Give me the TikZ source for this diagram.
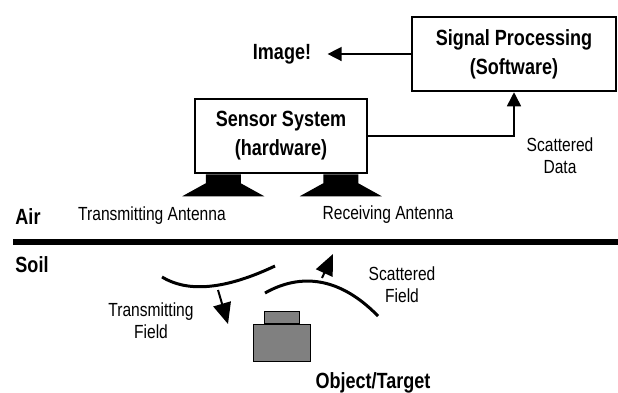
\documentclass[tikz,border=0pt]{standalone}
\usepackage{fontspec}
\setmainfont{Liberation Sans}[FakeStretch=0.82]
\usetikzlibrary{arrows.meta,positioning,calc}
\newcommand{\boldtext}{\fontsize{22}{29}\selectfont\bfseries}
\newcommand{\plaintext}{\fontsize{19}{22}\selectfont}
\tikzset{
    raw box/.style={rectangle, draw, line width=2.5pt, align=center, font=\boldtext, inner sep=0pt},
    big label/.style={font=\boldtext, align=center},
    small label/.style={font=\plaintext, align=center},
    antenna/.style={fill=black},
    wave/.style={line width=3pt},
    field arrow/.style={line width=2pt, -{Triangle[length=21pt,width=18pt]}},
    data arrow/.style={line width=1.5pt, -{Triangle[length=14pt,width=14pt]}},
    target part/.style={rectangle, draw, fill=gray, line width=0.8pt, inner sep=0pt}
}

\begin{document}
\begin{tikzpicture}[x=1pt,y=-1pt]
	\useasboundingbox (0,0) rectangle (618,392);
	% system
	\node[raw box, minimum width=204pt, minimum height=74pt] (sigproc) at (514,54) {Signal Processing\\(Software)};
	\node[raw box, minimum width=172pt, minimum height=74pt] (sensor) at (281,136) {Sensor System\\(hardware)};
	\node[big label] (image) at (282,54) {Image!};
	\draw[data arrow, shorten >=13pt] (sigproc.west) -- (image.east);
	\draw[data arrow] (sensor.east) -| (sigproc.south);
	\node[small label] (scdata) at (560,156) {Scattered\\Data};
	% antennas
	\coordinate (txant) at ($(sensor.south west)+(29.5,0)$);
	\coordinate (rxant) at ($(sensor.south east)+(-27.5,0)$);
	\foreach \ant in {txant, rxant}
		\fill[antenna] (\ant) ++(-17.5,0) -- ++(35,0) -- ++(0,9) -- ++(23.5,13) -- ++(-82,0) -- ++(23.5,-13) -- cycle;
	\node[small label] (txlabel) at (152,216) {Transmitting Antenna};
	\node[small label] (rxlabel) at (388,215) {Receiving Antenna};
	% ground
	\node[big label] (air) at (28,217) {Air};
	\node[big label] (soil) at (32,265) {Soil};
	\draw[line width=5.5pt] (13,242) -- (618,242);
	% fields
	\draw[wave] (162,277) .. controls (185,291) and (220,292) .. (275,266);
	\coordinate (txfrom) at (218,290);
	\coordinate (txto) at (228,324);
	\draw[field arrow] (txfrom) -- (txto);
	\draw[wave] (265,293) .. controls (295,276) and (335,272) .. (378,316);
	\coordinate (scfrom) at (322,278);
	\coordinate (scto) at (333,254);
	\draw[field arrow] (scfrom) -- (scto);
	\node[small label] (txfield) at (151,321) {Transmitting\\Field};
	\node[small label] (scfield) at (402,285) {Scattered\\Field};
	% target
	\node[target part, minimum width=57pt, minimum height=37pt] (body) at (281.5,342.5) {};
	\node[target part, minimum width=35pt, minimum height=12pt, anchor=south] (lid) at (body.north) {};
	\node[big label] (target) at (373,383) {Object/Target};
\end{tikzpicture}
\end{document}
